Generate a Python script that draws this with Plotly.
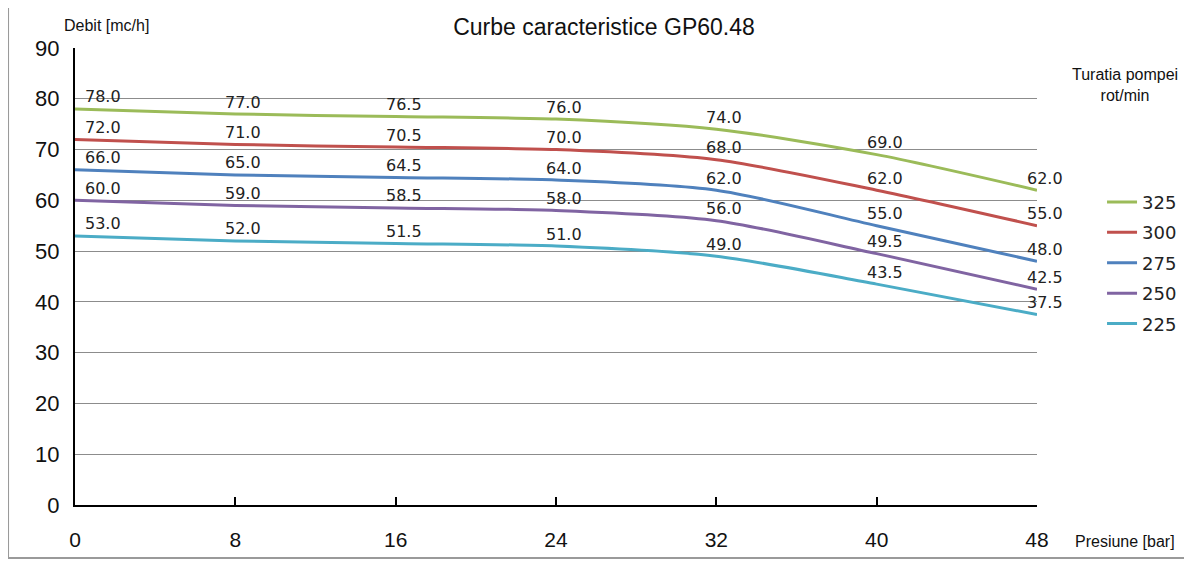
import plotly.graph_objects as go

pressure = [0, 8, 16, 24, 32, 40, 48]
speeds = ["325", "300", "275", "250", "225"]
flow_325 = [78.0, 77.0, 76.5, 76.0, 74.0, 69.0, 62.0]
flow_300 = [72.0, 71.0, 70.5, 70.0, 68.0, 62.0, 55.0]
flow_275 = [66.0, 65.0, 64.5, 64.0, 62.0, 55.0, 48.0]
flow_250 = [60.0, 59.0, 58.5, 58.0, 56.0, 49.5, 42.5]
flow_225 = [53.0, 52.0, 51.5, 51.0, 49.0, 43.5, 37.5]
colors = ["#9BBB59", "#C0504D", "#4F81BD", "#8064A2", "#4BACC6"]
x_ticks = [0, 8, 16, 24, 32, 40, 48]
y_ticks = [0, 10, 20, 30, 40, 50, 60, 70, 80, 90]

series = [flow_325, flow_300, flow_275, flow_250, flow_225]

fig = go.Figure()
annotations = []
for name, vals, col in zip(speeds, series, colors):
    fig.add_trace(go.Scatter(
        x=pressure, y=vals, name=name, mode="lines",
        line=dict(color=col, width=3, shape="spline", smoothing=0.8),
        legendgroup=name,
    ))
    for xv, yv in zip(pressure, vals):
        first = xv == pressure[0]
        annotations.append(dict(
            x=xv, y=yv, xref="x", yref="y", text=f"{yv:.1f}",
            showarrow=False, xanchor="left" if first else "center",
            yanchor="middle", xshift=8, yshift=12,
            font=dict(family="DejaVu Sans", size=16, color="#222"),
        ))

annotations += [
    dict(text="Debit [mc/h]", xref="paper", yref="paper", x=-0.0135, y=1.05,
         xanchor="left", yanchor="middle", showarrow=False,
         font=dict(family="Liberation Sans", size=16, color="#111")),
    dict(text="Presiune [bar]", xref="paper", yref="paper", x=1.037, y=-0.079,
         xanchor="left", yanchor="middle", showarrow=False,
         font=dict(family="Liberation Sans", size=16, color="#111")),
    dict(text="Turatia pompei<br>rot/min", xref="paper", yref="paper", x=1.0915, y=0.919,
         xanchor="center", yanchor="middle", showarrow=False,
         font=dict(family="Liberation Sans", size=16, color="#111")),
]

fig.update_layout(
    width=1192, height=565,
    margin=dict(l=67, r=163, t=40, b=68),
    paper_bgcolor="white", plot_bgcolor="white",
    title=dict(text="Curbe caracteristice GP60.48", x=0.5, xref="container",
               y=1 - 19 / 565, yanchor="middle", xanchor="center",
               font=dict(family="Liberation Sans", size=23, color="#111")),
    annotations=annotations,
    legend=dict(x=1.0676, y=0.703, xanchor="left", yanchor="top",
                font=dict(family="DejaVu Sans", size=18, color="#222"),
                tracegroupgap=4, bgcolor="rgba(0,0,0,0)"),
    showlegend=True,
    shapes=[dict(type="rect", xref="paper", yref="paper",
                 x0=-0.0696, x1=1.25, y0=-0.116, y1=1.0897,
                 line=dict(color="#9a9a9a", width=2), layer="below")],
    xaxis=dict(range=[0, 48], tickvals=x_ticks, showgrid=False, zeroline=False,
               showline=True, linecolor="black", linewidth=2,
               ticks="inside", ticklen=8, tickwidth=1.5, tickcolor="black",
               ticklabelstandoff=15,
               tickfont=dict(family="Liberation Sans", size=21, color="#111")),
    yaxis=dict(range=[0, 90], tickvals=y_ticks, showgrid=True, gridcolor="#8c8c8c", gridwidth=1,
               zeroline=False, showline=True, linecolor="black", linewidth=2,
               ticks="", ticklabelstandoff=9,
               tickfont=dict(family="Liberation Sans", size=22, color="#111")),
)

fig.write_html("out.html")
